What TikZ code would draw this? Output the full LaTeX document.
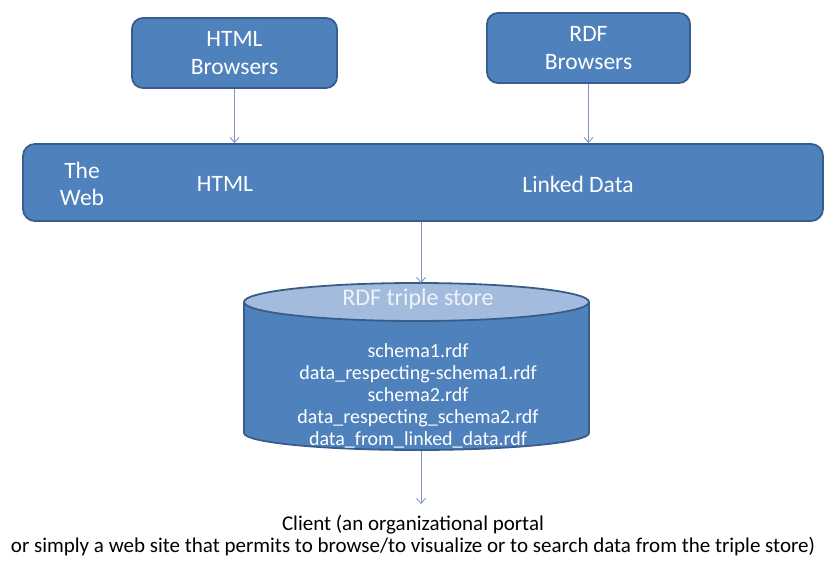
\documentclass[tikz,border=0pt]{standalone}
\usepackage{fontspec}
\setmainfont{Carlito}
\usetikzlibrary{arrows.meta}
\definecolor{boxfill}{HTML}{4F81BD}
\definecolor{boxline}{HTML}{385D8A}
\definecolor{lidfill}{HTML}{A3BCDD}
\definecolor{linkcol}{HTML}{8193C6}
\definecolor{lidtext}{HTML}{EEF3FA}
\tikzset{
  bluebox/.style={draw=boxline, line width=1.8pt, fill=boxfill, rounded corners=11pt,
    text=white, align=center, inner sep=0pt,
    font=\fontsize{23.5}{28}\selectfont},
  bandtext/.style={text=white, align=center, inner sep=0pt,
    font=\fontsize{23.5}{27}\selectfont},
  feed/.style={draw=linkcol, line width=0.9pt, -{Straight Barb[length=5pt,width=9pt]}},
  filelist/.style={text=white, align=center, inner sep=0pt,
    font=\fontsize{20}{22}\selectfont},
  caption/.style={text=black, align=center, inner sep=0pt,
    font=\fontsize{21}{22}\selectfont}
}
\begin{document}
\begin{tikzpicture}[x=1pt, y=-1pt]
\useasboundingbox (0,0) rectangle (825,561);

% browser boxes
\node[bluebox, minimum width=205pt, minimum height=70pt] (htmlb) at (234.5,53) {HTML\\Browsers};
\node[bluebox, minimum width=203pt, minimum height=70pt] (rdfb) at (588.5,48) {RDF\\Browsers};

% the web band
\node[bluebox, minimum width=800pt, minimum height=77pt, rounded corners=12pt] (web) at (423,182.5) {};
\node[bandtext] (webtitle) at (82,184) {The\\Web};
\node[bandtext] (webhtml) at (225,184) {HTML};
\node[bandtext] (webld) at (578,184) {Linked Data};

% triple store cylinder
\coordinate (cyltop) at (421,283);
\coordinate (cylbot) at (421,451);
\fill[boxfill] (244,302) -- (244,433) arc[start angle=180, end angle=360, x radius=172.5pt, y radius=17pt]
  -- (589,302) -- cycle;
\draw[boxline, line width=1.8pt] (244,302) -- (244,433) arc[start angle=180, end angle=360, x radius=172.5pt, y radius=17pt]
  -- (589,302);
\draw[boxline, line width=1.8pt, fill=lidfill] (416.5,302) ellipse[x radius=172.5pt, y radius=19pt];
\node[text=lidtext, inner sep=0pt, font=\fontsize{24}{28}\selectfont] (storename) at (418,299) {RDF triple store};
\node[filelist] (files) at (418,396) {schema1.rdf\\data\_respecting-schema1.rdf\\schema2.rdf\\data\_respecting\_schema2.rdf\\data\_from\_linked\_data.rdf};

% client description
\coordinate (clientin) at (421,504);
\node[caption] (client) at (413,536) {Client (an organizational portal\\or simply a web site that permits to browse/to visualize or to search data from the triple store)};

% connectors
\draw[feed] (htmlb.south) -- (htmlb.south |- web.north);
\draw[feed] (rdfb.south) -- (rdfb.south |- web.north);
\draw[feed] (cyltop |- web.south) -- (cyltop);
\draw[feed] (cylbot) -- (clientin);
\end{tikzpicture}
\end{document}
